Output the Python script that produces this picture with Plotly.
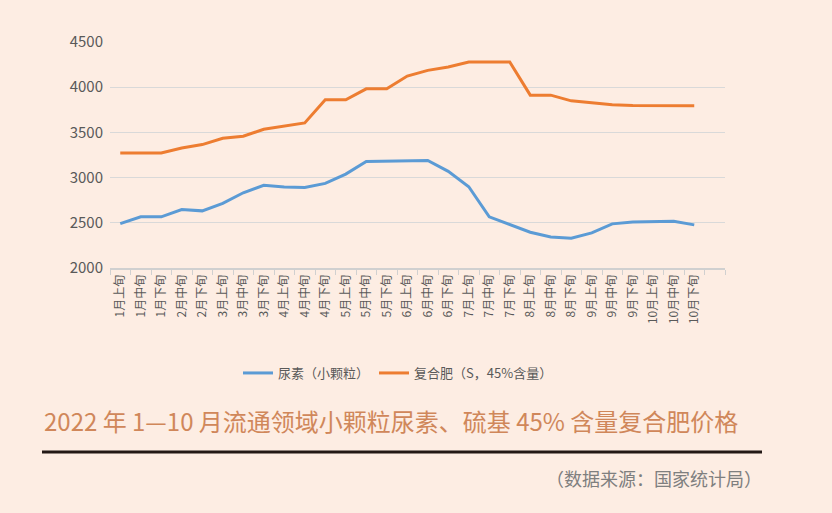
import plotly.graph_objects as go

categories = ["1月上旬", "1月中旬", "1月下旬", "2月中旬", "2月下旬", "3月上旬", "3月中旬", "3月下旬",
              "4月上旬", "4月中旬", "4月下旬", "5月上旬", "5月中旬", "5月下旬", "6月上旬", "6月中旬",
              "6月下旬", "7月上旬", "7月中旬", "7月下旬", "8月上旬", "8月中旬", "8月下旬", "9月上旬",
              "9月中旬", "9月下旬", "10月上旬", "10月中旬", "10月下旬"]
urea = [2490, 2566, 2566, 2647, 2632, 2714, 2832, 2915, 2895, 2891, 2936, 3039, 3178, 3180,
        3187, 3190, 3069, 2899, 2566, 2484, 2396, 2344, 2329, 2388, 2488, 2510, 2510, 2516, 2477]
compound = [3272, 3272, 3272, 3328, 3365, 3435, 3457, 3535, 3568, 3605, 3860, 3860, 3982, 3982,
            4123, 4186, 4223, 4278, 4278, 4278, 3912, 3912, 3849, 3831, 3805, 3797, 3794, 3794, 3794]
series_names = ["尿素（小颗粒）", "复合肥（S，45%含量）"]
y_ticks = [2000, 2500, 3000, 3500, 4000, 4500]
axis_slots = categories + [" "]

W, H = 832, 513
L, R, T, B = 110, 725, 42, 268
def px(x):
    return (x - L) / (R - L)
def py(y):
    return (B - y) / (B - T)

BG = "#FDEDE3"
font_cjk = "Noto Sans CJK SC, Noto Sans, sans-serif"

fig = go.Figure()
fig.add_trace(go.Scatter(x=categories, y=urea, name=series_names[0], mode="lines",
                         line=dict(color="#5B9BD5", width=3)))
fig.add_trace(go.Scatter(x=categories, y=compound, name=series_names[1], mode="lines",
                         line=dict(color="#ED7D31", width=3)))

fig.update_layout(
    width=W, height=H,
    paper_bgcolor=BG, plot_bgcolor=BG,
    margin=dict(l=L, r=W - R, t=T, b=H - B),
    font=dict(family=font_cjk, color="#595959", size=12),
    showlegend=True,
    legend=dict(orientation="h", x=px(398), y=py(373), xanchor="center", yanchor="middle",
                font=dict(size=13, color="#595959"), bgcolor="rgba(0,0,0,0)"),
    xaxis=dict(type="category", categoryorder="array", categoryarray=axis_slots,
               range=[-0.5, len(axis_slots) - 0.5], tickangle=-90,
               showgrid=False, showline=True, linecolor="#D0D0D0", linewidth=2,
               ticks="outside", tickson="boundaries", ticklen=5, tickcolor="#D0D0D0",
               tickfont=dict(size=12, color="#595959"), fixedrange=True),
    yaxis=dict(range=[2000, 4500], tickvals=y_ticks, showgrid=True, gridcolor="#D9D9D9",
               gridwidth=1, zeroline=False, showline=False, ticks="", ticklabelstandoff=6,
               tickfont=dict(size=15, color="#595959"), fixedrange=True),
    annotations=[
        dict(text="2022 年 1—10 月流通领域小颗粒尿素、硫基 45% 含量复合肥价格",
             xref="paper", yref="paper", x=px(42), y=py(420), xanchor="left", yanchor="middle",
             showarrow=False, font=dict(size=24, color="#D0875A", family=font_cjk)),
        dict(text="（数据来源：国家统计局）",
             xref="paper", yref="paper", x=px(764), y=py(478), xanchor="right", yanchor="middle",
             showarrow=False, font=dict(size=18, color="#7F7F7F", family=font_cjk)),
    ],
    shapes=[dict(type="line", xref="paper", yref="paper", x0=px(42), x1=px(762),
                 y0=py(452), y1=py(452), line=dict(color="#231815", width=3))],
)

fig.write_html("out.html", config={"displayModeBar": False},
               post_script="document.body.style.margin='0';")
